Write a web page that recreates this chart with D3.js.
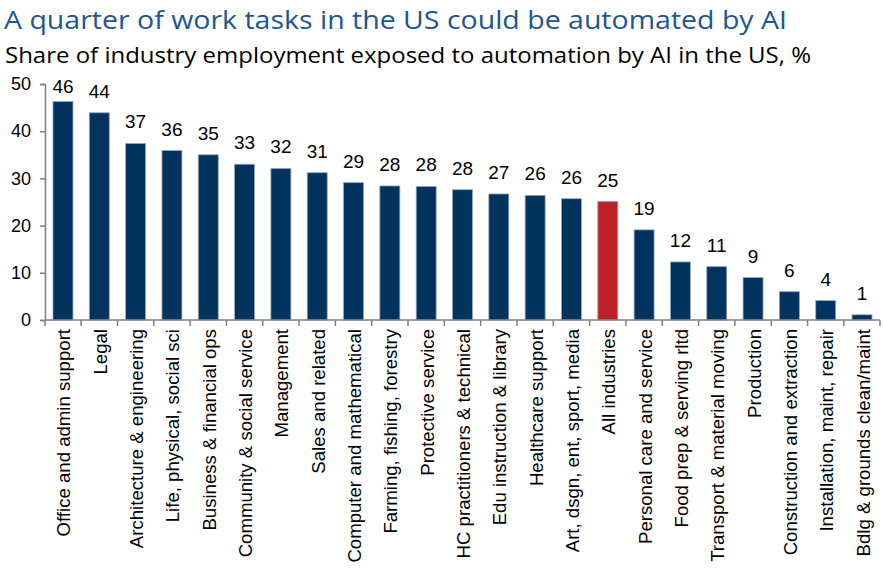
<!DOCTYPE html>
<html>
<head>
<meta charset="utf-8">
<script src="https://cdn.jsdelivr.net/npm/d3@7"></script>
<style>
  body { margin: 0; background: #fff; }
  svg { display: block; }
</style>
</head>
<body>
<div id="chart"></div>
<script>
const categories = [
  'Office and admin support', 'Legal', 'Architecture & engineering',
  'Life, physical, social sci', 'Business & financial ops',
  'Community & social service', 'Management', 'Sales and related',
  'Computer and mathematical', 'Farming, fishing, forestry',
  'Protective service', 'HC practitioners & technical',
  'Edu instruction & library', 'Healthcare support',
  'Art, dsgn, ent, sport, media', 'All industries',
  'Personal care and service', 'Food prep & serving rltd',
  'Transport & material moving', 'Production',
  'Construction and extraction', 'Installation, maint, repair',
  'Bdlg & grounds clean/maint'
];
const values = [46.3, 43.9, 37.4, 35.9, 35.0, 33.0, 32.1, 31.2, 29.1, 28.4,
  28.3, 27.6, 26.7, 26.4, 25.7, 25.1, 19.1, 12.3, 11.3, 9.0, 6.0, 4.1, 1.1];
const highlight = 'All industries';
const yTicks = [0, 10, 20, 30, 40, 50];

const width = 883, height = 571;
const margin = { top: 84, left: 45, right: 2, bottom: 251 };
const plotH = height - margin.top - margin.bottom;

const svg = d3.select('#chart').append('svg')
  .attr('width', width)
  .attr('height', height);

// titles
svg.append('text')
  .attr('x', 4).attr('y', 29)
  .attr('textLength', 783)
  .attr('lengthAdjust', 'spacingAndGlyphs')
  .style('font-family', 'Open Sans, sans-serif')
  .style('font-size', '25.5px')
  .style('fill', '#1b5790')
  .text('A quarter of work tasks in the US could be automated by AI');

svg.append('text')
  .attr('x', 5).attr('y', 63)
  .attr('textLength', 806)
  .attr('lengthAdjust', 'spacingAndGlyphs')
  .style('font-family', 'Open Sans, sans-serif')
  .style('font-size', '22.5px')
  .style('fill', '#000')
  .text('Share of industry employment exposed to automation by AI in the US, %');

const g = svg.append('g')
  .attr('transform', `translate(${margin.left}, ${margin.top})`);

const x = d3.scaleBand()
  .domain(categories)
  .range([0, width - margin.left - margin.right - 1])
  .paddingInner(0.45)
  .paddingOuter(0.22);

const y = d3.scaleLinear().domain([0, 50]).range([plotH, 0]);

// bars
g.selectAll('.bar')
  .data(values)
  .enter()
  .append('rect')
  .attr('class', 'bar')
  .attr('x', (d, i) => x(categories[i]))
  .attr('y', d => y(d))
  .attr('width', x.bandwidth())
  .attr('height', d => y(0) - y(d))
  .attr('fill', (d, i) => categories[i] === highlight ? '#c0202a' : '#00335e')
  .attr('stroke', '#9aa6b6')
  .attr('stroke-width', 0.8);

// value labels
g.selectAll('.val')
  .data(values)
  .enter()
  .append('text')
  .attr('x', (d, i) => x(categories[i]) + x.bandwidth() / 2)
  .attr('y', d => Math.max(y(d) - 15, 9))
  .attr('text-anchor', 'middle')
  .style('font-family', 'Liberation Sans, Arial, sans-serif')
  .style('font-size', '19px')
  .style('fill', '#000')
  .text(d => d3.format('.0f')(d));

// y axis
const yAxis = g.append('g')
  .call(d3.axisLeft(y).tickValues(yTicks).tickSize(5).tickPadding(9));
yAxis.select('.domain').attr('stroke', '#808080').attr('stroke-width', 1.5);
yAxis.selectAll('.tick line').attr('stroke', '#808080').attr('stroke-width', 1.5);
yAxis.selectAll('.tick text')
  .style('font-family', 'Liberation Sans, Arial, sans-serif')
  .style('font-size', '18px')
  .style('fill', '#000');

// x axis with ticks between categories
const xAxis = g.append('g').attr('transform', `translate(0, ${plotH})`);
xAxis.append('line')
  .attr('x1', 0).attr('x2', x.range()[1])
  .attr('stroke', '#808080').attr('stroke-width', 1.5);
const step = x.step();
const bounds = categories.map((c, i) => i === 0 ? 0 : x(c) - x.paddingInner() * step / 2)
  .concat([x.range()[1]]);
xAxis.selectAll('.sep')
  .data(bounds)
  .enter()
  .append('line')
  .attr('x1', d => d).attr('x2', d => d)
  .attr('y1', 0).attr('y2', 6)
  .attr('stroke', '#808080').attr('stroke-width', 1.5);

xAxis.selectAll('.cat')
  .data(categories)
  .enter()
  .append('text')
  .attr('transform', d => `translate(${x(d) + x.bandwidth() / 2 + 1}, 9) rotate(-90)`)
  .attr('text-anchor', 'end')
  .attr('dy', '0.35em')
  .style('font-family', 'Liberation Sans, Arial, sans-serif')
  .style('font-size', '18.6px')
  .style('fill', '#000')
  .text(d => d);
</script>
</body>
</html>
